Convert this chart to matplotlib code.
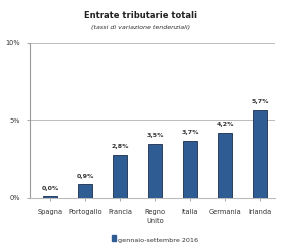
import matplotlib
matplotlib.use('Agg')
import matplotlib.pyplot as plt
import numpy as np

paesi = ['Spagna', 'Portogallo', 'Francia', 'Regno\nUnito', 'Italia', 'Germania', 'Irlanda']
valori = [0.0, 0.9, 2.8, 3.5, 3.7, 4.2, 5.7]
etichette = ['0,0%', '0,9%', '2,8%', '3,5%', '3,7%', '4,2%', '5,7%']
ticks_y = [0, 5, 10]
ticks_y_lab = ['0%', '5%', '10%']

fig = plt.figure(figsize=(2.81, 2.44), dpi=100)
ax = fig.add_axes([0.107, 0.189, 0.872, 0.635])

x = np.arange(len(paesi))
# bar "0,0%" still shows a thin sliver in the original
altezze = [max(v, 0.12) for v in valori]
ax.bar(x + 0.07, altezze, width=0.4, color='#2F5D93', edgecolor='#1B2F4E', linewidth=0.6, zorder=3)

for xi, v, lab in zip(x, altezze, etichette):
    ax.text(xi + 0.07, v + 0.35, lab, ha='center', va='bottom', fontsize=4.5,
            fontweight='bold', color='#333333')

ax.set_xlim(-0.5, 6.5)
ax.set_ylim(0, 10)
ax.set_yticks(ticks_y)
ax.set_yticklabels(ticks_y_lab, fontsize=4.8, color='#333333')
ax.set_xticks(x + 0.07)
ax.set_xticklabels(paesi, fontsize=4.8, color='#333333', linespacing=1.6)
ax.grid(axis='y', color='#BBBBBB', linewidth=0.7, zorder=0)
for s in ['top', 'right']:
    ax.spines[s].set_visible(False)
ax.spines['left'].set_color('#999999')
ax.spines['bottom'].set_color('#BBBBBB')
ax.tick_params(axis='both', length=2, width=0.6, color='#999999')
ax.tick_params(axis='y', pad=5)
ax.tick_params(axis='x', pad=6)

fig.text(0.5, 0.925, 'Entrate tributarie totali', ha='center', fontsize=6,
         fontweight='bold', color='#222222')
fig.text(0.5, 0.88, '(tassi di variazione tendenziali)', ha='center', fontsize=4.6,
         style='italic', color='#333333')

fig.text(0.42, 0.01, 'gennaio-settembre 2016', ha='left', fontsize=4.6, color='#333333')
fig.patches.append(plt.Rectangle((0.40, 0.014), 0.012, 0.022, transform=fig.transFigure,
                                 color='#2F5D93', figure=fig))

fig.savefig('out.png', dpi=100)
